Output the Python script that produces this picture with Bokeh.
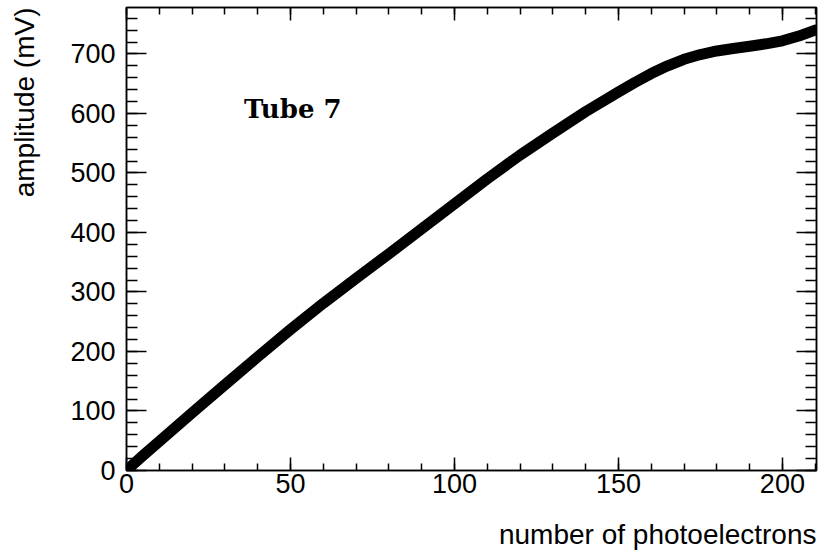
from bokeh.plotting import figure
from bokeh.models import Range1d, SingleIntervalTicker, LinearAxis, Label, Title, CustomLabelingPolicy
from bokeh.embed import file_html
from bokeh.resources import INLINE

# number of photoelectrons vs amplitude (mV)
n_pe = [0, 2, 5, 10, 20, 30, 40, 50, 60, 70, 80, 90, 100, 110, 120, 130, 140,
        150, 155, 160, 165, 170, 175, 180, 185, 190, 195, 200, 205, 210]
amp_mv = [0, 10, 25, 49, 97, 144, 191, 237, 281, 323, 364, 406, 448, 490, 530,
          567, 603, 636, 652, 667, 680, 691, 699, 705, 709, 713, 717, 722, 730, 740]

x_title = "number of photoelectrons"
y_title = "amplitude (mV)"
tube_label = "Tube 7"

X_MAX, Y_MAX = 210.4, 778

W, H = 818, 554
p = figure(width=W, height=H, output_backend="svg", toolbar_location=None,
           x_range=Range1d(0, X_MAX), y_range=Range1d(0, Y_MAX),
           min_border_left=126, min_border_right=2, min_border_top=7,
           min_border_bottom=84)
p.background_fill_color = "white"
p.border_fill_color = "white"
p.outline_line_color = "black"
p.outline_line_width = 1.5
p.xgrid.visible = False
p.ygrid.visible = False

xt = SingleIntervalTicker(interval=50, num_minor_ticks=5)
yt = SingleIntervalTicker(interval=100, num_minor_ticks=5)

FONT = "Liberation Sans"

xa = p.xaxis[0]
xa.ticker = xt
xa.major_label_text_font = FONT
xa.major_label_text_font_size = "27px"
xa.major_label_standoff = 3
xa.major_tick_in = 13
xa.major_tick_out = 0
xa.minor_tick_in = 7
xa.minor_tick_out = 0

ya = p.yaxis[0]
ya.ticker = yt
ya.major_label_text_font = FONT
ya.major_label_text_font_size = "27px"
ya.major_label_standoff = 11
ya.major_label_orientation = "horizontal"
ya.major_tick_in = 20
ya.major_tick_out = 0
ya.minor_tick_in = 11
ya.minor_tick_out = 0

for ax in (xa, ya):
    ax.axis_line_color = "black"
    ax.axis_line_width = 1.5
    ax.major_tick_line_color = "black"
    ax.major_tick_line_width = 1.5
    ax.minor_tick_line_color = "black"
    ax.minor_tick_line_width = 1.5
    ax.major_label_text_color = "black"

no_labels = "for (const i of indices) { indices.unset(i) }\nreturn indices"

def bare_axis(ticker, tick_in, minor_in):
    return LinearAxis(ticker=ticker, major_label_text_font_size="0px", major_label_standoff=0,
                      major_label_policy=CustomLabelingPolicy(code=no_labels),
                      major_tick_in=tick_in, major_tick_out=0,
                      minor_tick_in=minor_in, minor_tick_out=0,
                      axis_line_width=1.5, major_tick_line_width=1.5,
                      minor_tick_line_width=1.5)

def spacer_axis(ticker, size):
    # invisible axis that only reserves room between tick labels and the title
    return LinearAxis(ticker=ticker, major_label_text_font_size="0px", major_label_standoff=0,
                      major_label_policy=CustomLabelingPolicy(code=no_labels),
                      major_tick_in=0, major_tick_out=size, minor_tick_in=0, minor_tick_out=0,
                      axis_line_color=None, major_tick_line_color=None,
                      minor_tick_line_color=None)

p.add_layout(bare_axis(xt, 13, 7), "above")
p.add_layout(bare_axis(yt, 20, 11), "right")

p.line(n_pe, amp_mv, line_width=11, line_color="black", line_cap="round", line_join="round")

p.add_layout(Label(x=35.8, y=608, text=tube_label, text_font="DejaVu Serif",
                   text_font_style="bold", text_font_size="26px", text_color="black",
                   text_baseline="alphabetic", text_align="left"))

# axis titles, right/top aligned as in the ROOT style
p.add_layout(spacer_axis(xt, 21), "below")
p.add_layout(Title(text=x_title, align="right", text_font=FONT, text_font_style="normal",
                   text_font_size="28px", text_color="black", standoff=0), "below")
p.add_layout(spacer_axis(yt, 28), "left")
p.add_layout(Title(text=y_title, align="right", text_font=FONT, text_font_style="normal",
                   text_font_size="28px", text_color="black", standoff=0), "left")

open("out.html", "w").write(file_html(p, INLINE))
